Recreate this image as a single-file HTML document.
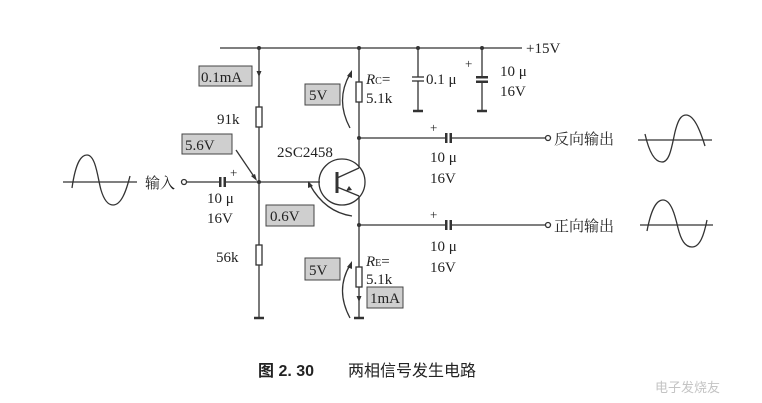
<!DOCTYPE html>
<html><head><meta charset="utf-8"><style>
html,body{margin:0;padding:0;background:#fff;}
svg{display:block;}
text{font-family:"Liberation Serif","Noto Serif CJK SC",serif;fill:#222;}
.c{font-family:"Liberation Sans","Noto Sans CJK SC",sans-serif;}
</style></head><body>
<svg width="762" height="403" viewBox="0 0 762 403" xmlns="http://www.w3.org/2000/svg">
<g stroke="#333" stroke-width="1.3" fill="none">
<line x1="220" y1="48" x2="522" y2="48"/>
<line x1="259" y1="48" x2="259" y2="107"/>
<rect x="256" y="107" width="6" height="20" fill="#fff"/>
<line x1="259" y1="127" x2="259" y2="245"/>
<rect x="256" y="245" width="6" height="20" fill="#fff"/>
<line x1="259" y1="265" x2="259" y2="317"/>
<circle cx="184" cy="182" r="2.5" fill="#fff"/>
<line x1="187" y1="182" x2="220" y2="182"/>
<line x1="226" y1="182" x2="320" y2="182"/>
<line x1="359" y1="48" x2="359" y2="82"/>
<rect x="356" y="82" width="6" height="20" fill="#fff"/>
<line x1="359" y1="102" x2="359" y2="168"/>
<line x1="359" y1="196" x2="359" y2="267"/>
<rect x="356" y="267" width="6" height="20" fill="#fff"/>
<line x1="359" y1="287" x2="359" y2="317"/>
<circle cx="342" cy="182" r="23"/>
<line x1="337" y1="172" x2="337" y2="193" stroke-width="3"/>
<line x1="337" y1="178" x2="359" y2="168"/>
<line x1="337" y1="187" x2="359" y2="196"/>
<line x1="359" y1="138" x2="446" y2="138"/>
<line x1="451" y1="138" x2="545" y2="138"/>
<circle cx="548" cy="138" r="2.5" fill="#fff"/>
<line x1="359" y1="225" x2="446" y2="225"/>
<line x1="451" y1="225" x2="545" y2="225"/>
<circle cx="548" cy="225" r="2.5" fill="#fff"/>
<line x1="418" y1="48" x2="418" y2="77"/>
<line x1="412" y1="77" x2="424" y2="77"/>
<line x1="412" y1="81" x2="424" y2="81"/>
<line x1="418" y1="81" x2="418" y2="110"/>
<line x1="482" y1="48" x2="482" y2="77"/>
<line x1="482" y1="82" x2="482" y2="110"/>
<line x1="254" y1="318" x2="264" y2="318" stroke-width="2.5"/>
<line x1="354" y1="318" x2="364" y2="318" stroke-width="2.5"/>
<line x1="413" y1="111" x2="423" y2="111" stroke-width="2.5"/>
<line x1="477" y1="111" x2="487" y2="111" stroke-width="2.5"/>
<path d="M350 128 Q335 100 350 74"/>
<path d="M350 318 Q335 290 350 265"/>
<path d="M352 216 Q325 212 310 185"/>
<line x1="236" y1="150" x2="255" y2="178"/>
<line x1="63" y1="182" x2="137" y2="182"/>
<path d="M72 188 C76 160 82 155 87 155 C96 155 98 180 101 190 C104 200 108 205 113 205 C121 205 126 192 130 176"/>
<line x1="638" y1="140" x2="712" y2="140"/>
<path d="M645 134 C650 156 656 162 662 162 C670 162 672 145 675 132 C678 120 681 115 686 115 C694 115 700 130 705 146"/>
<line x1="640" y1="225" x2="713" y2="225"/>
<path d="M647 231 C651 210 656 200 663 200 C671 200 675 215 678 228 C681 240 685 247 692 247 C700 247 704 235 707 220"/>
</g>
<g fill="#333">
<rect x="219" y="177" width="2.5" height="10"/><rect x="223.5" y="177" width="2.5" height="10"/>
<rect x="445" y="133" width="2.5" height="10"/><rect x="449.5" y="133" width="2.5" height="10"/>
<rect x="445" y="220" width="2.5" height="10"/><rect x="449.5" y="220" width="2.5" height="10"/>
<rect x="476" y="76" width="12" height="2.5"/><rect x="476" y="80.5" width="12" height="2.5"/>
<circle cx="259" cy="48" r="2"/><circle cx="359" cy="48" r="2"/><circle cx="418" cy="48" r="2"/><circle cx="482" cy="48" r="2"/>
<circle cx="259" cy="182" r="2"/><circle cx="359" cy="138" r="2"/><circle cx="359" cy="225" r="2"/>
<polygon points="259,77 256.5,71 261.5,71"/>
<polygon points="359,302 356.5,296 361.5,296"/>
<polygon points="352,190 346,191 349,186"/>
<polygon points="352,70 347,76 352,78"/>
<polygon points="352,261 347,267 352,269"/>
<polygon points="308,181 308,188 313,186"/>
<polygon points="257,181 251,176 255,174"/>
</g>
<g fill="#cfcfcf" stroke="#444" stroke-width="1">
<rect x="199" y="66" width="53" height="20"/>
<rect x="305" y="84" width="35" height="21"/>
<rect x="182" y="134" width="50" height="20"/>
<rect x="266" y="205" width="48" height="21"/>
<rect x="305" y="258" width="35" height="22"/>
<rect x="367" y="287" width="36" height="21"/>
</g>
<g font-size="15">
<text x="201" y="82">0.1mA</text>
<text x="309" y="100">5V</text>
<text x="185" y="150">5.6V</text>
<text x="270" y="221">0.6V</text>
<text x="309" y="275">5V</text>
<text x="370" y="303">1mA</text>
<text x="526" y="53">+15V</text>
<text x="217" y="124">91k</text>
<text x="216" y="262">56k</text>
<text x="277" y="157">2SC2458</text>
<text x="366" y="84"><tspan font-style="italic">R</tspan><tspan font-size="10">C</tspan>=</text>
<text x="366" y="103">5.1k</text>
<text x="366" y="266"><tspan font-style="italic">R</tspan><tspan font-size="10">E</tspan>=</text>
<text x="366" y="284">5.1k</text>
<text x="426" y="84">0.1 μ</text>
<text x="500" y="76">10 μ</text>
<text x="500" y="96">16V</text>
<text x="207" y="203">10 μ</text>
<text x="207" y="223">16V</text>
<text x="430" y="162">10 μ</text>
<text x="430" y="183">16V</text>
<text x="430" y="251">10 μ</text>
<text x="430" y="272">16V</text>
<text x="230" y="177" font-size="13">+</text>
<text x="430" y="132" font-size="13">+</text>
<text x="430" y="219" font-size="13">+</text>
<text x="465" y="68" font-size="13">+</text>
</g>
<g class="c" font-size="15">
<text x="145" y="188">输入</text>
<text x="554" y="144">反向输出</text>
<text x="554" y="231">正向输出</text>
</g>
<text x="258" y="376" font-size="16" font-weight="bold" class="c">图 2. 30</text>
<text x="348" y="376" font-size="16" class="c">两相信号发生电路</text>
<text x="655" y="392" font-size="13" class="c" style="fill:#c4c4c4">电子发烧友</text>
</svg>
</body></html>
